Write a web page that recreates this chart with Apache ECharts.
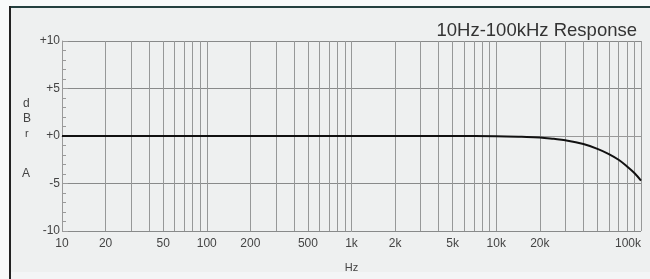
<!DOCTYPE html>
<html>
<head>
<meta charset="utf-8">
<script src="https://cdn.jsdelivr.net/npm/echarts@6/dist/echarts.min.js"></script>
<style>
  html, body { margin: 0; padding: 0; background: #f6f8f8; }
  #chart { width: 650px; height: 279px; }
</style>
</head>
<body>
<div id="chart"></div>
<script>
// response curve (Hz, dBr)
const freqs = [10, 100, 1000, 5000, 10000, 15000, 20000, 25000, 30000, 40000, 50000, 60000, 70000, 80000, 90000, 100000]
const levels = [0, 0, 0, 0, -0.02, -0.08, -0.15, -0.3, -0.45, -0.85, -1.35, -1.9, -2.5, -3.2, -3.9, -4.7]

// grid lines and labelled frequencies
const gridFreqs = [10, 20, 30, 40, 50, 60, 70, 80, 90,
  100, 200, 300, 400, 500, 600, 700, 800, 900,
  1000, 2000, 3000, 4000, 5000, 6000, 7000, 8000, 9000,
  10000, 20000, 30000, 40000, 50000, 60000, 70000, 80000, 90000, 100000]
const labelFreqs = [10, 20, 50, 100, 200, 500, 1000, 2000, 5000, 10000, 20000, 100000]

const fmtHz = (f) => f >= 1000 ? (f / 1000) + 'k' : String(f)

const chart = echarts.init(document.getElementById('chart'))

chart.setOption({
  backgroundColor: '#eef0f0',
  animation: false,
  title: {
    text: '10Hz-100kHz Response',
    right: 8,
    top: 16,
    textStyle: { color: '#333', fontSize: 18.5, fontWeight: 'normal', fontFamily: 'Liberation Sans' },
  },
  grid: { left: 62, right: 9, top: 41, bottom: 48, outerBoundsMode: 'none' },
  graphic: [
    { type: 'rect', shape: { x: 0, y: 0, width: 650, height: 6 }, style: { fill: '#f8fafa' }, silent: true },
    { type: 'rect', shape: { x: 0, y: 0, width: 9, height: 279 }, style: { fill: '#f8fafa' }, silent: true },
    { type: 'rect', shape: { x: 9, y: 6, width: 641, height: 2 }, style: { fill: '#24403f' }, silent: true },
    { type: 'rect', shape: { x: 9, y: 6, width: 2, height: 273 }, style: { fill: '#222' }, silent: true },
    { type: 'rect', shape: { x: 11, y: 272, width: 639, height: 7 }, style: { fill: '#f3f5f6' }, silent: true },
    { type: 'text', left: 23, top: 98, style: { text: 'd', fill: '#444', font: '12px Liberation Sans' } },
    { type: 'text', left: 23, top: 113, style: { text: 'B', fill: '#444', font: '12px Liberation Sans' } },
    { type: 'text', left: 25, top: 128, style: { text: 'r', fill: '#444', font: '11px Liberation Sans' } },
    { type: 'text', left: 22, top: 168, style: { text: 'A', fill: '#444', font: '12px Liberation Sans' } },
  ],
  xAxis: {
    type: 'value',
    min: 1,
    max: 5,
    name: 'Hz',
    nameLocation: 'middle',
    nameGap: 31,
    nameTextStyle: { color: '#444', fontSize: 11, fontFamily: 'Liberation Sans' },
    axisLine: { show: true, lineStyle: { color: '#999', width: 1 } },
    axisTick: { show: false, customValues: gridFreqs.map(f => Math.log10(f)) },
    splitLine: { show: true, lineStyle: { color: '#969898', width: 1 } },
    axisLabel: {
      customValues: labelFreqs.map(f => Math.log10(f)),
      formatter: (v) => fmtHz(Math.round(Math.pow(10, v))),
      alignMaxLabel: 'right',
      color: '#444',
      fontSize: 12,
      fontFamily: 'Liberation Sans',
      margin: 7,
    },
  },
  yAxis: {
    type: 'value',
    min: -10,
    max: 10,
    interval: 5,
    axisLine: { show: true, lineStyle: { color: '#999', width: 1 } },
    axisTick: { show: true, inside: true, length: 6, lineStyle: { color: '#999' } },
    minorTick: { show: true, splitNumber: 5, length: 4, lineStyle: { color: '#999' } },
    splitLine: { show: true, lineStyle: { color: '#888a8a', width: 1 } },
    axisLabel: {
      formatter: (v) => v >= 0 ? '+' + v : String(v),
      color: '#444',
      fontSize: 12,
      fontFamily: 'Liberation Sans',
      margin: 2,
    },
  },
  series: [{
    type: 'line',
    data: freqs.map((f, i) => [Math.log10(f), levels[i]]),
    smooth: 0.4,
    showSymbol: false,
    lineStyle: { color: '#111', width: 2 },
  }],
})
</script>
</body>
</html>
